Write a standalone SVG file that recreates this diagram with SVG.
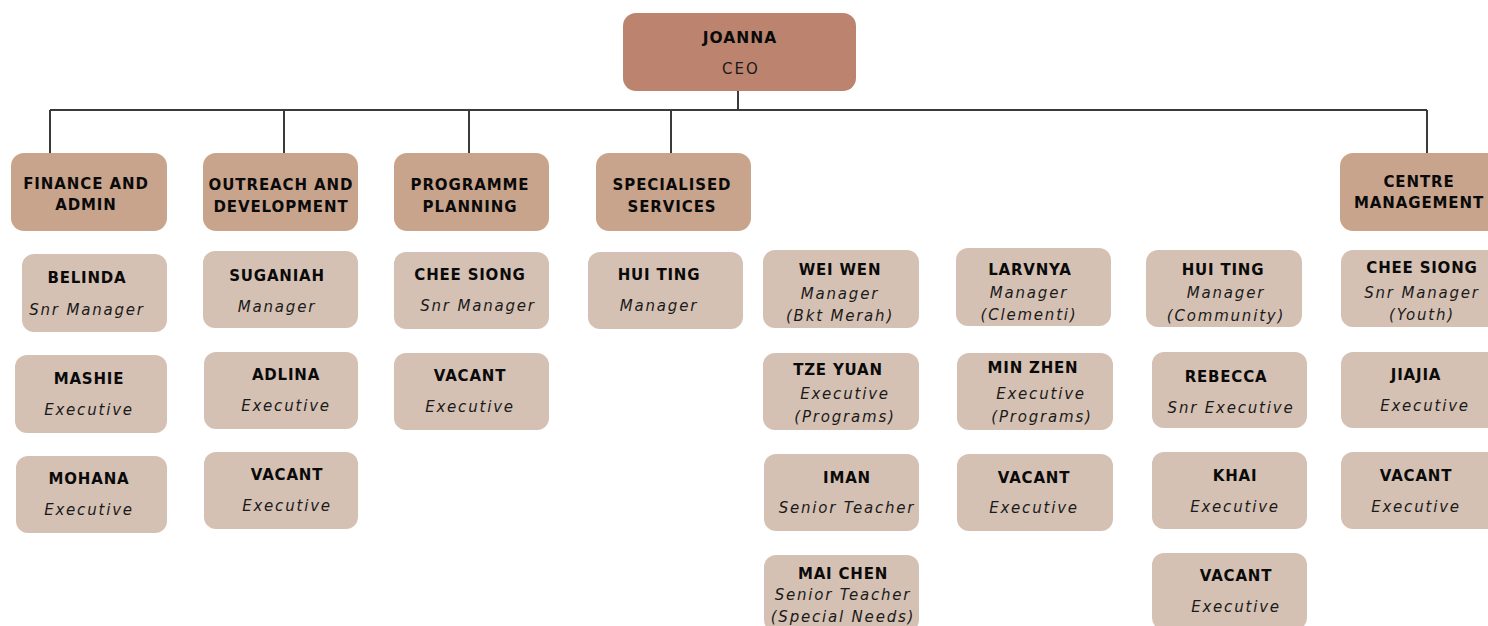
<svg xmlns="http://www.w3.org/2000/svg" width="1488" height="626" viewBox="0 0 1488 626">
<style>
.ceo{fill:#BC846F}
.dept{fill:#C9A48D}
.staff{fill:#D5C1B3}
.nm{font-family:"DejaVu Sans",sans-serif;font-weight:bold;font-size:15px;letter-spacing:0.8px;fill:#0a0a0a;text-anchor:middle}
.dn{font-family:"DejaVu Sans",sans-serif;font-weight:bold;font-size:15px;letter-spacing:0.9px;fill:#0a0a0a;text-anchor:middle}
.tt{font-family:"DejaVu Sans",sans-serif;font-style:italic;font-size:15px;letter-spacing:1.8px;fill:#1a1a1a;text-anchor:middle}
.ct{font-family:"DejaVu Sans",sans-serif;font-size:15px;letter-spacing:2px;fill:#1a1a1a;text-anchor:middle}
.ln{stroke:#3a3a3a;stroke-width:2;fill:none}
</style>
<rect width="1488" height="626" fill="#ffffff"/>
<g id="connectors">
<path class="ln" d="M738 90 V110 M50 110 H1427 M50 110 V153 M284 110 V153 M469 110 V153 M671 110 V153 M1427 110 V153"/>
</g>
<g id="ceo"><rect class="ceo" x="623" y="13" width="233" height="78" rx="13"/><text class="nm" x="740" y="43" style="font-size:15.5px;letter-spacing:1px">JOANNA</text><text class="ct" x="741" y="74">CEO</text></g>
<g id="dept-finance"><rect class="dept" x="11" y="153" width="156" height="78" rx="13"/><text class="dn" x="86" y="189">FINANCE AND</text><text class="dn" x="86" y="210">ADMIN</text></g>
<g id="dept-outreach"><rect class="dept" x="203" y="153" width="155" height="78" rx="13"/><text class="dn" x="281" y="190">OUTREACH AND</text><text class="dn" x="281" y="212">DEVELOPMENT</text></g>
<g id="dept-programme"><rect class="dept" x="394" y="153" width="155" height="78" rx="13"/><text class="dn" x="470" y="190">PROGRAMME</text><text class="dn" x="470" y="212">PLANNING</text></g>
<g id="dept-specialised"><rect class="dept" x="596" y="153" width="155" height="78" rx="13"/><text class="dn" x="672" y="190">SPECIALISED</text><text class="dn" x="672" y="212">SERVICES</text></g>
<g id="dept-centre"><rect class="dept" x="1340" y="153" width="160" height="78" rx="13"/><text class="dn" x="1419" y="187">CENTRE</text><text class="dn" x="1419" y="208">MANAGEMENT</text></g>

<g id="belinda"><rect class="staff" x="22" y="254" width="145" height="78" rx="12"/><text class="nm" x="87" y="283">BELINDA</text><text class="tt" x="87" y="315">Snr Manager</text></g>
<g id="mashie"><rect class="staff" x="15" y="355" width="152" height="78" rx="12"/><text class="nm" x="89" y="384">MASHIE</text><text class="tt" x="89" y="415">Executive</text></g>
<g id="mohana"><rect class="staff" x="16" y="456" width="151" height="77" rx="12"/><text class="nm" x="89" y="484">MOHANA</text><text class="tt" x="89" y="515">Executive</text></g>

<g id="suganiah"><rect class="staff" x="203" y="251" width="155" height="77" rx="12"/><text class="nm" x="277" y="281">SUGANIAH</text><text class="tt" x="277" y="312">Manager</text></g>
<g id="adlina"><rect class="staff" x="204" y="352" width="154" height="77" rx="12"/><text class="nm" x="286" y="380">ADLINA</text><text class="tt" x="286" y="411">Executive</text></g>
<g id="vacant-outreach"><rect class="staff" x="204" y="452" width="154" height="77" rx="12"/><text class="nm" x="287" y="480">VACANT</text><text class="tt" x="287" y="511">Executive</text></g>

<g id="cheesiong-prog"><rect class="staff" x="394" y="252" width="155" height="77" rx="12"/><text class="nm" x="470" y="280">CHEE SIONG</text><text class="tt" x="478" y="311">Snr Manager</text></g>
<g id="vacant-prog"><rect class="staff" x="394" y="353" width="155" height="77" rx="12"/><text class="nm" x="470" y="381">VACANT</text><text class="tt" x="470" y="412">Executive</text></g>

<g id="huiting-spec"><rect class="staff" x="588" y="252" width="155" height="77" rx="12"/><text class="nm" x="659" y="280">HUI TING</text><text class="tt" x="659" y="311">Manager</text></g>

<g id="weiwen"><rect class="staff" x="763" y="250" width="156" height="78" rx="12"/><text class="nm" x="840" y="275">WEI WEN</text><text class="tt" x="840" y="299">Manager</text><text class="tt" x="840" y="321">(Bkt Merah)</text></g>
<g id="tzeyuan"><rect class="staff" x="763" y="353" width="156" height="77" rx="12"/><text class="nm" x="838" y="375">TZE YUAN</text><text class="tt" x="845" y="399">Executive</text><text class="tt" x="845" y="422">(Programs)</text></g>
<g id="iman"><rect class="staff" x="764" y="454" width="155" height="77" rx="12"/><text class="nm" x="847" y="483">IMAN</text><text class="tt" x="847" y="513">Senior Teacher</text></g>
<g id="maichen"><rect class="staff" x="764" y="555" width="155" height="77" rx="12"/><text class="nm" x="843" y="579">MAI CHEN</text><text class="tt" x="843" y="600">Senior Teacher</text><text class="tt" x="843" y="622">(Special Needs)</text></g>

<g id="larvnya"><rect class="staff" x="956" y="248" width="155" height="78" rx="12"/><text class="nm" x="1030" y="275">LARVNYA</text><text class="tt" x="1029" y="298">Manager</text><text class="tt" x="1029" y="320">(Clementi)</text></g>
<g id="minzhen"><rect class="staff" x="957" y="353" width="156" height="77" rx="12"/><text class="nm" x="1033" y="373">MIN ZHEN</text><text class="tt" x="1041" y="399">Executive</text><text class="tt" x="1042" y="422">(Programs)</text></g>
<g id="vacant-b"><rect class="staff" x="957" y="454" width="156" height="77" rx="12"/><text class="nm" x="1034" y="483">VACANT</text><text class="tt" x="1034" y="513">Executive</text></g>

<g id="huiting-comm"><rect class="staff" x="1146" y="250" width="156" height="77" rx="12"/><text class="nm" x="1223" y="275">HUI TING</text><text class="tt" x="1226" y="298">Manager</text><text class="tt" x="1226" y="321">(Community)</text></g>
<g id="rebecca"><rect class="staff" x="1152" y="352" width="155" height="76" rx="12"/><text class="nm" x="1226" y="382">REBECCA</text><text class="tt" x="1231" y="413">Snr Executive</text></g>
<g id="khai"><rect class="staff" x="1152" y="452" width="155" height="77" rx="12"/><text class="nm" x="1235" y="481">KHAI</text><text class="tt" x="1235" y="512">Executive</text></g>
<g id="vacant-c"><rect class="staff" x="1152" y="553" width="155" height="77" rx="12"/><text class="nm" x="1236" y="581">VACANT</text><text class="tt" x="1236" y="612">Executive</text></g>

<g id="cheesiong-youth"><rect class="staff" x="1341" y="250" width="160" height="77" rx="12"/><text class="nm" x="1422" y="273">CHEE SIONG</text><text class="tt" x="1422" y="298">Snr Manager</text><text class="tt" x="1422" y="320">(Youth)</text></g>
<g id="jiajia"><rect class="staff" x="1341" y="352" width="160" height="76" rx="12"/><text class="nm" x="1416" y="380">JIAJIA</text><text class="tt" x="1425" y="411">Executive</text></g>
<g id="vacant-d"><rect class="staff" x="1341" y="452" width="160" height="77" rx="12"/><text class="nm" x="1416" y="481">VACANT</text><text class="tt" x="1416" y="512">Executive</text></g>
</svg>
